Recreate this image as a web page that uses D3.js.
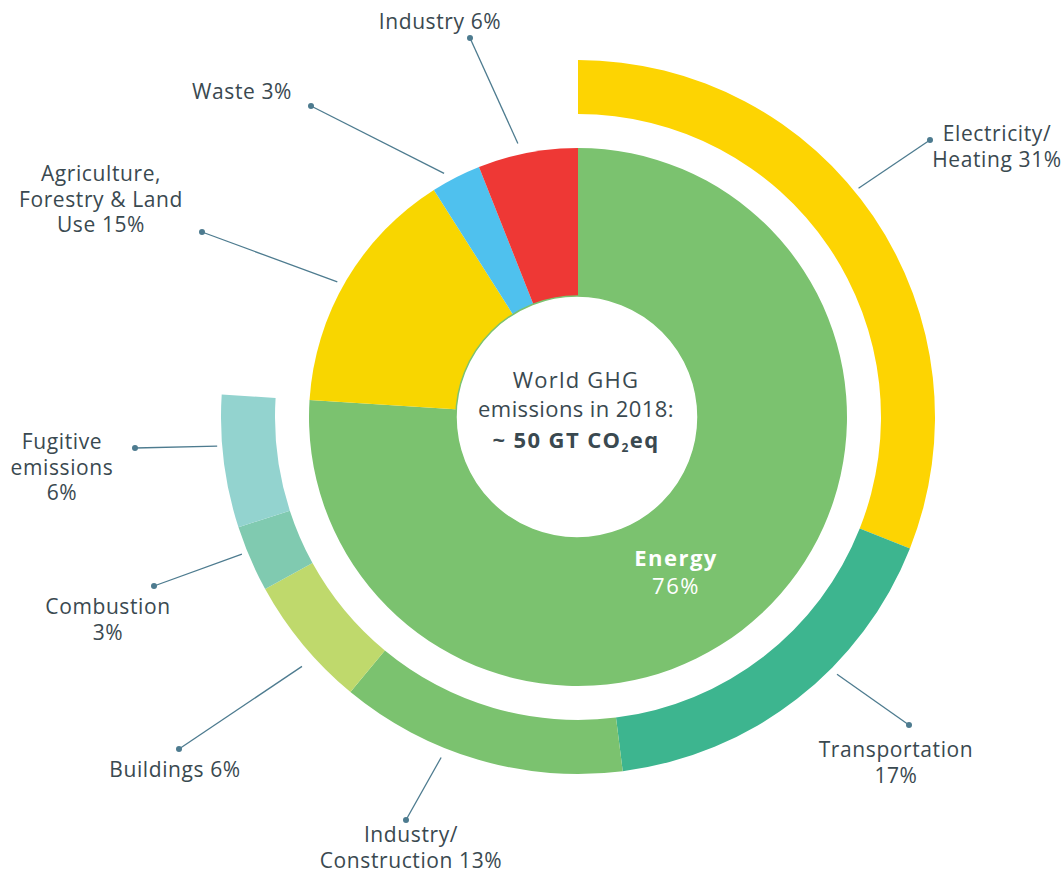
<!DOCTYPE html>
<html>
<head>
<meta charset="utf-8">
<script src="https://cdnjs.cloudflare.com/ajax/libs/d3/7.8.5/d3.min.js"></script>
<style>
  body { margin: 0; background: #fff; }
  svg text { font-family: "Open Sans", sans-serif; fill: #3a4950; }
</style>
</head>
<body>
<svg width="1064" height="873"></svg>
<script>
// inner ring: all sectors (share of world GHG, %)
var sectors = ["Energy", "Agriculture, Forestry & Land Use", "Waste", "Industry"];
var sectorShares = [76, 15, 3, 6];
var sectorColors = ["#7bc26f", "#f8d600", "#4fc1ee", "#ee3835"];

// outer ring: breakdown of energy (%)
var energyUses = ["Electricity/Heating", "Transportation", "Industry/Construction", "Buildings", "Combustion", "Fugitive emissions"];
var energyShares = [31, 17, 13, 6, 3, 6];
var energyColors = ["#fdd402", "#3db58f", "#7bc26f", "#bfd96c", "#80cab0", "#93d3cf"];

// label text, line by line
var sectorLabels = [null, ["Agriculture,", "Forestry & Land", "Use 15%"], ["Waste 3%"], ["Industry 6%"]];
var energyLabels = [["Electricity/", "Heating 31%"], ["Transportation", "17%"], ["Industry/", "Construction 13%"],
    ["Buildings 6%"], ["Combustion", "3%"], ["Fugitive", "emissions", "6%"]];

var svg = d3.select("svg"),
    cx = 578,
    cy = 417;

var g = svg.append("g").attr("transform", "translate(" + cx + "," + cy + ")");

var total = d3.sum(sectorShares);

var innerPie = d3.pie().sort(null).value(function(d) { return d; });
var outerPie = d3.pie().sort(null).value(function(d) { return d; })
    .startAngle(0)
    .endAngle(2 * Math.PI * d3.sum(energyShares) / total);

var innerArc = d3.arc().innerRadius(0).outerRadius(269);
var outerArc = d3.arc().innerRadius(303).outerRadius(357);

g.selectAll(".inner").data(innerPie(sectorShares))
    .enter().append("path")
    .attr("class", "inner")
    .attr("d", innerArc)
    .attr("fill", function(d, i) { return sectorColors[i]; });

g.selectAll(".outer").data(outerPie(energyShares))
    .enter().append("path")
    .attr("class", "outer")
    .attr("d", outerArc)
    .attr("fill", function(d, i) { return energyColors[i]; });

// hole in the middle
g.append("circle")
    .attr("cx", -1)
    .attr("r", 121)
    .attr("fill", "#fff")
    .attr("stroke", "#7bc26f")
    .attr("stroke-width", 1.5);

// centre text
var centre = g.append("text").attr("text-anchor", "middle").style("font-size", "22px").style("letter-spacing", "0.4px");
centre.append("tspan").attr("x", -2).attr("y", -29).style("letter-spacing", "1.2px").text("World GHG");
centre.append("tspan").attr("x", -2).attr("y", 0).text("emissions in 2018:");
var bold = g.append("text").attr("text-anchor", "middle").attr("x", -2).attr("y", 31)
    .style("font-weight", 700).style("font-size", "22px").style("letter-spacing", "1.4px");
bold.append("tspan").text("~ 50 GT CO");
bold.append("tspan").attr("dy", 4).style("font-size", "12px").text("2");
bold.append("tspan").attr("dy", -4).text("eq");

// label on the energy slice
g.append("text").attr("text-anchor", "middle")
    .attr("x", 98).attr("y", 149)
    .style("fill", "#fff").style("font-size", "22px").style("font-weight", 700).style("letter-spacing", "1.5px")
    .text(sectors[0]);
g.append("text").attr("text-anchor", "middle")
    .attr("x", 98).attr("y", 177)
    .style("fill", "#fff").style("font-size", "22px").style("letter-spacing", "1.5px")
    .text(sectorShares[0] + "%");

// callouts: angle (deg) and radius where the leader starts, dot, text anchor
var sectorCallouts = [null,
    { a: 299.3, r: 276, dot: [202, 232], text: [101, 181] },
    { a: 331.2, r: 278, dot: [311, 106], text: [242, 99] },
    { a: 347.6, r: 280, dot: [470, 38], text: [440, 29] }];
var energyCallouts = [
    { a: 50.8, r: 362, dot: [930, 140], text: [997, 141] },
    { a: 134.8, r: 365, dot: [909, 725], text: [896, 757] },
    { a: 201.9, r: 367, dot: [406, 820], text: [411, 842] },
    { a: 227.9, r: 372, dot: [179, 749], text: [175, 777] },
    { a: 247.8, r: 363, dot: [154, 586], text: [108, 614] },
    { a: 265.4, r: 362, dot: [135, 448], text: [62, 449] }];

var callouts = [];
sectorCallouts.forEach(function(c, i) { if (c) callouts.push({ c: c, lines: sectorLabels[i] }); });
energyCallouts.forEach(function(c, i) { callouts.push({ c: c, lines: energyLabels[i] }); });

var lineColor = "#4d7b8f";

svg.selectAll(".leader").data(callouts)
    .enter().append("line")
    .attr("class", "leader")
    .attr("x1", function(d) { return cx + d.c.r * Math.sin(d.c.a * Math.PI / 180); })
    .attr("y1", function(d) { return cy - d.c.r * Math.cos(d.c.a * Math.PI / 180); })
    .attr("x2", function(d) { return d.c.dot[0]; })
    .attr("y2", function(d) { return d.c.dot[1]; })
    .attr("stroke", lineColor)
    .attr("stroke-width", 1.3);

svg.selectAll(".dot").data(callouts)
    .enter().append("circle")
    .attr("class", "dot")
    .attr("cx", function(d) { return d.c.dot[0]; })
    .attr("cy", function(d) { return d.c.dot[1]; })
    .attr("r", 3)
    .attr("fill", lineColor);

var labels = svg.selectAll(".label").data(callouts)
    .enter().append("text")
    .attr("class", "label")
    .attr("text-anchor", "middle")
    .style("font-size", "21px")
    .style("letter-spacing", "0.6px");

labels.selectAll("tspan").data(function(d) {
        return d.lines.map(function(l) { return { t: l, x: d.c.text[0], y: d.c.text[1] }; });
    })
    .enter().append("tspan")
    .attr("x", function(d) { return d.x; })
    .attr("y", function(d, i) { return d.y + i * 25.5; })
    .text(function(d) { return d.t; });
</script>
</body>
</html>
